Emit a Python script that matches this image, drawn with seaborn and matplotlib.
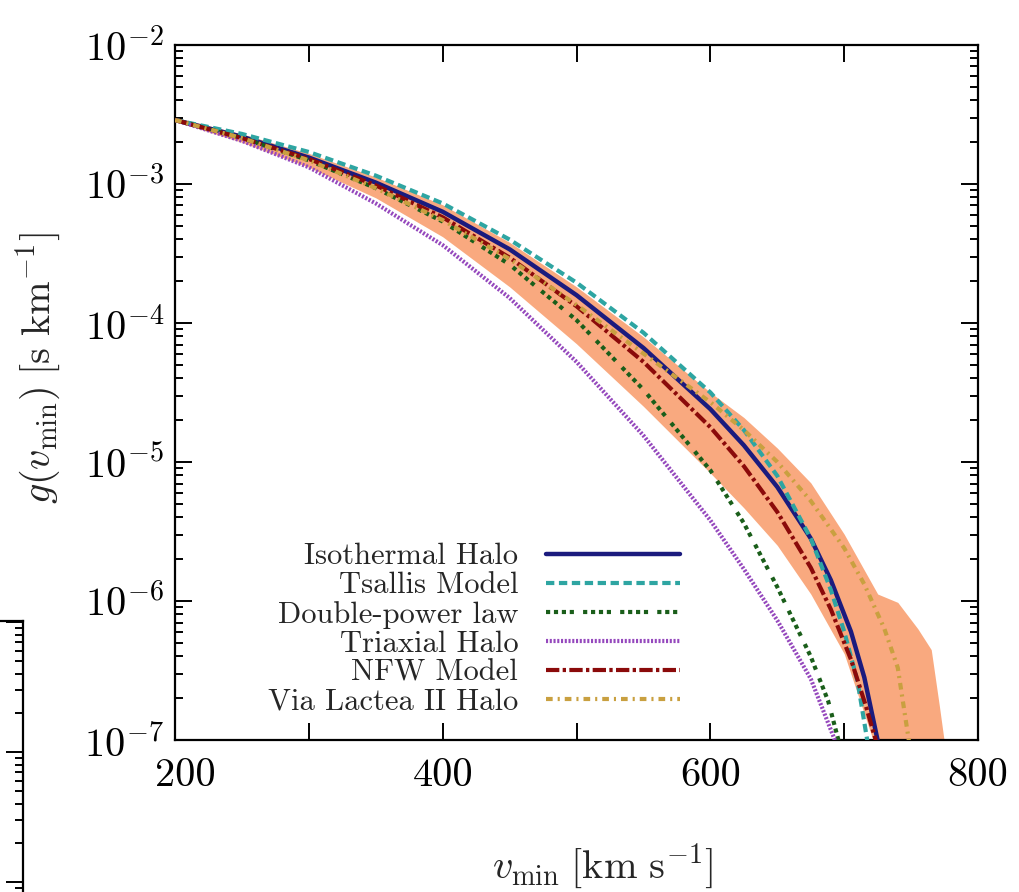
import numpy as np
import pandas as pd
import matplotlib
matplotlib.use("Agg")
import matplotlib.pyplot as plt
import matplotlib.transforms as mtransforms
import seaborn as sns
from matplotlib.ticker import FixedLocator, LogLocator, NullLocator, NullFormatter

# ---------------- data (v_min in km/s, log10 of g(v_min) in s/km) ----------------
models = ["Isothermal Halo", "Tsallis Model", "Double-power law",
          "Triaxial Halo", "NFW Model", "Via Lactea II Halo"]

v_iso = [200, 250, 300, 350, 400, 450, 500, 550, 600, 625, 650, 675, 690, 705, 715, 726]
lg_iso = [-2.54, -2.66, -2.81, -2.99, -3.20, -3.47, -3.80, -4.18, -4.62, -4.88,
          -5.18, -5.55, -5.85, -6.22, -6.55, -7.05]

v_tsa = [200, 250, 300, 350, 400, 450, 500, 550, 600, 625, 650, 675, 690, 700, 710, 718]
lg_tsa = [-2.54, -2.64, -2.77, -2.94, -3.14, -3.40, -3.71, -4.07, -4.50, -4.77,
          -5.10, -5.55, -5.92, -6.22, -6.58, -7.05]

v_dpl = [200, 250, 300, 350, 400, 450, 500, 550, 600, 625, 650, 675, 688, 697]
lg_dpl = [-2.54, -2.67, -2.83, -3.03, -3.27, -3.58, -3.98, -4.48, -5.06, -5.44,
          -5.90, -6.40, -6.72, -7.05]

v_tri = [200, 250, 300, 350, 400, 450, 500, 550, 600, 625, 650, 675, 695]
lg_tri = [-2.54, -2.69, -2.88, -3.14, -3.44, -3.82, -4.28, -4.81, -5.42, -5.77,
          -6.14, -6.56, -7.05]

v_nfw = [200, 250, 300, 350, 400, 450, 500, 550, 600, 625, 650, 675, 690, 705, 716, 725]
lg_nfw = [-2.54, -2.67, -2.82, -3.01, -3.24, -3.53, -3.88, -4.28, -4.75, -5.03,
          -5.36, -5.76, -6.06, -6.42, -6.75, -7.05]

v_vl2 = [200, 250, 300, 350, 400, 450, 500, 550, 600, 625, 650, 675, 700, 715, 730, 740, 749]
lg_vl2 = [-2.54, -2.67, -2.83, -3.03, -3.26, -3.54, -3.87, -4.22, -4.57, -4.77,
          -5.00, -5.28, -5.62, -5.88, -6.20, -6.48, -7.05]

v_band = [200, 250, 300, 350, 400, 450, 500, 550, 600, 625, 650, 675, 700, 725,
          740, 755, 765, 771, 776]
lg_band_lo = [-2.55, -2.70, -2.88, -3.10, -3.38, -3.74, -4.15, -4.60, -5.08, -5.33,
              -5.60, -5.95, -6.38, -7.10, -8.0, -8.0, -8.0, -8.0, -8.0]
lg_band_hi = [-2.52, -2.64, -2.78, -2.95, -3.15, -3.42, -3.74, -4.10, -4.50, -4.68,
              -4.90, -5.15, -5.52, -5.95, -6.01, -6.20, -6.35, -6.75, -7.10]

xticks = [200, 300, 400, 500, 600, 700, 800]
xtick_labels = ["200", "", "400", "", "600", "", "800"]

# ---------------- styling ----------------
colors = ["#1b1b7e", "#2ea5a2", "#1a5e1a", "#9548bd", "#8b0a0a", "#c9a040"]
styles = ["-", (0, (2.0, 1.1)), (0, (1, 0.9, 1, 0.9, 1, 0.9, 1, 2.2)),
          (0, (0.5, 0.4)), (0, (3.2, 0.8, 0.8, 0.8)), (0, (1.6, 1.2, 0.5, 1.2))]
widths = [3.2, 3.0, 3.0, 3.0, 3.0, 3.0]
band_color = "#f9a97f"

sns.set_theme(style="ticks")
plt.rcParams["font.family"] = ["cmr10", "DejaVu Serif"]
plt.rcParams["mathtext.fontset"] = "cm"
plt.rcParams["axes.formatter.use_mathtext"] = True
plt.rcParams["axes.unicode_minus"] = True

frames = []
for name, v, lg in zip(models,
                       [v_iso, v_tsa, v_dpl, v_tri, v_nfw, v_vl2],
                       [lg_iso, lg_tsa, lg_dpl, lg_tri, lg_nfw, lg_vl2]):
    frames.append(pd.DataFrame({"model": name, "v": v, "g": 10.0 ** np.array(lg)}))
df = pd.concat(frames, ignore_index=True)

fig = plt.figure(figsize=(10.2, 8.92), dpi=100)
ax = fig.add_axes([0.1716, 0.1704, 0.7873, 0.7792])
ax.set_yscale("log")

ax.fill_between(v_band, 10.0 ** np.array(lg_band_lo), 10.0 ** np.array(lg_band_hi),
                color=band_color, lw=0, zorder=1)

for name, c, ls, lw in zip(models, colors, styles, widths):
    sub = df[df["model"] == name]
    sns.lineplot(data=sub, x="v", y="g", ax=ax, color=c, linestyle=ls, lw=lw,
                 label=name, errorbar=None, zorder=3)

ax.set_xlim(200, 800)
ax.set_ylim(1e-7, 1e-2)

ax.xaxis.set_major_locator(FixedLocator(xticks))
ax.set_xticklabels(xtick_labels)
ax.xaxis.set_minor_locator(NullLocator())
ax.yaxis.set_major_locator(LogLocator(base=10, numticks=10))
ax.yaxis.set_minor_locator(LogLocator(base=10, subs=np.arange(2, 10), numticks=100))
ax.yaxis.set_minor_formatter(NullFormatter())

ax.tick_params(which="both", direction="in", top=True, right=True,
               width=1.4, colors="black", labelsize=29)
ax.tick_params(which="major", length=12)
ax.tick_params(which="minor", length=6)
ax.tick_params(axis="x", pad=13)
ax.tick_params(axis="y", pad=8)
for sp in ax.spines.values():
    sp.set_linewidth(1.6)
    sp.set_color("black")

ax.set_xlabel(r"$v_{\rm min}\;[{\rm km\ s}^{-1}]$", fontsize=29)
ax.set_ylabel(r"$g(v_{\rm min})\;[{\rm s\ km}^{-1}]$", fontsize=29)
ax.xaxis.set_label_coords(0.532, -0.145)
ax.yaxis.set_label_coords(-0.14, 0.535)

handles, labels = ax.get_legend_handles_labels()
ax.legend(handles, labels, loc="lower right", bbox_to_anchor=(0.629, 0.035),
          frameon=False, markerfirst=False, fontsize=22, handlelength=4.4,
          handletextpad=0.9, labelspacing=0.05, borderpad=0, borderaxespad=0)

# fragment of a neighbouring panel at the lower-left edge
ax2 = fig.add_axes([-0.3, -0.5, 0.3226, 0.8038])
ax2.set_yscale("log")
ax2.set_ylim(10 ** -4.508, 10 ** 1.0077)
ax2.set_xlim(0, 1)
ax2.patch.set_alpha(0)
ax2.spines["left"].set_visible(False)
ax2.spines["bottom"].set_visible(False)
for sp in ["top", "right"]:
    ax2.spines[sp].set_linewidth(1.6)
    ax2.spines[sp].set_color("black")
ax2.yaxis.set_major_locator(LogLocator(base=10, numticks=10))
ax2.yaxis.set_minor_locator(LogLocator(base=10, subs=np.arange(2, 10), numticks=100))
ax2.yaxis.set_major_formatter(NullFormatter())
ax2.yaxis.set_minor_formatter(NullFormatter())
ax2.yaxis.tick_right()
ax2.tick_params(which="both", direction="in", width=1.4, colors="black")
ax2.tick_params(which="major", length=12)
ax2.tick_params(which="minor", length=6)
ax2.set_xticks([])

# nudge the first x tick label a little to the right, as in the reference
first = ax.xaxis.get_major_ticks()[0].label1
first.set_transform(first.get_transform() +
                    mtransforms.ScaledTranslation(0.10, 0, fig.dpi_scale_trans))

fig.savefig("out.png", dpi=100)
